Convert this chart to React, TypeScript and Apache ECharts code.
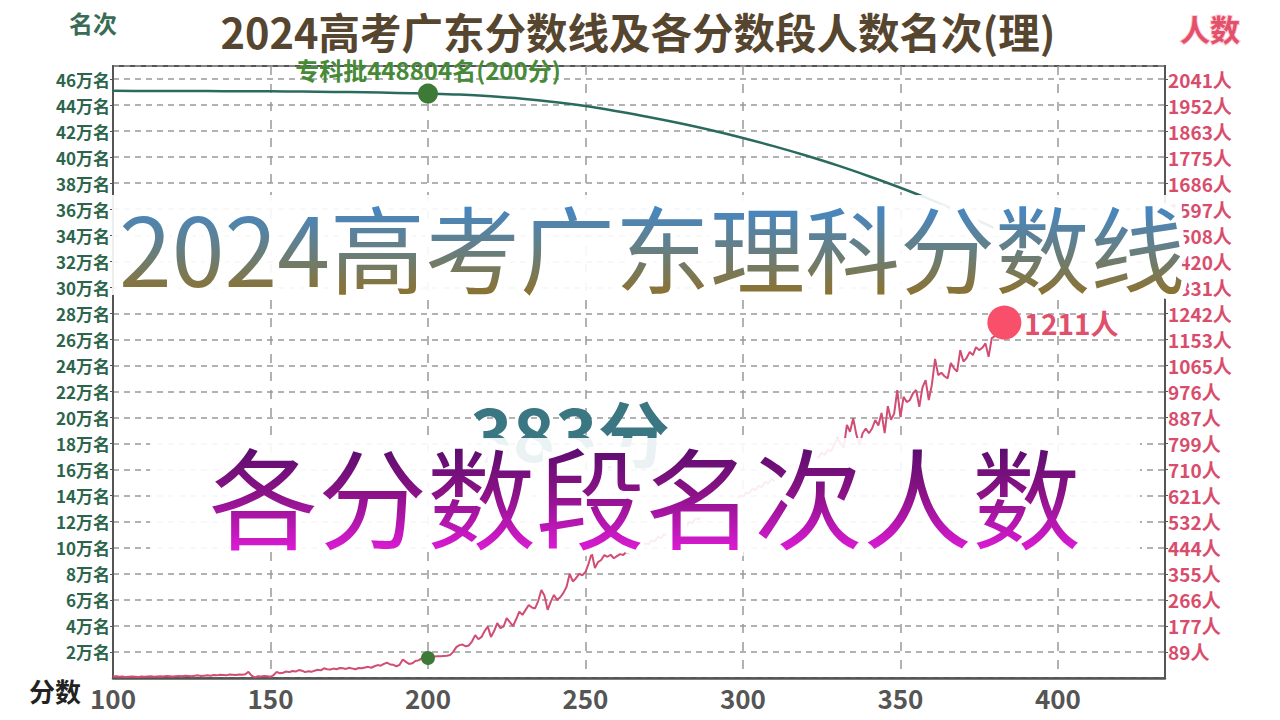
import React, { useEffect, useRef } from 'react';
import * as echarts from 'echarts';

// 每分人数 (score 100 .. 383)
const countStartScore = 100;
const countsPerScore = [
  5, 6, 4, 5, 3, 4, 5, 4, 3, 5,
  4, 5, 6, 4, 5, 6, 5, 7, 6, 5,
  6, 7, 6, 8, 7, 6, 8, 9, 7, 8,
  9, 8, 10, 9, 11, 10, 9, 12, 11, 10,
  12, 11, 13, 21, 8, 2, 6, 5, 7, 6,
  4, 10, 21, 16, 18, 22, 20, 24, 22, 27,
  25, 20, 23, 21, 25, 28, 26, 33, 30, 29,
  32, 30, 34, 33, 31, 35, 32, 30, 34, 33,
  36, 38, 35, 40, 44, 42, 48, 52, 46, 45,
  40, 45, 63, 55, 48, 50, 58, 60, 67, 64,
  68, 72, 73, 74, 74, 75, 76, 78, 89, 105,
  112, 114, 108, 111, 125, 146, 132, 140, 160, 175,
  140, 160, 187, 170, 175, 204, 190, 177, 200, 226,
  215, 232, 249, 240, 237, 262, 300, 280, 232, 260,
  283, 266, 275, 290, 311, 355, 329, 340, 355, 350,
  361, 390, 426, 375, 395, 402, 419, 413, 420, 408,
  415, 422, 419, 430, 425, 440, 432, 450, 445, 460,
  455, 470, 465, 482, 476, 490, 485, 500, 495, 510,
  505, 522, 515, 532, 528, 545, 540, 556, 550, 568,
  562, 578, 572, 590, 585, 600, 595, 612, 606, 622,
  618, 632, 628, 645, 640, 655, 650, 668, 662, 678,
  672, 688, 684, 700, 694, 712, 705, 722, 716, 732,
  728, 745, 738, 755, 750, 768, 760, 778, 772, 795,
  817, 800, 784, 862, 839, 885, 830, 794, 834, 850,
  834, 850, 879, 860, 903, 834, 926, 880, 900, 981,
  889, 958, 940, 947, 970, 981, 924, 990, 1015, 947,
  1000, 1087, 1032, 1040, 1028, 1021, 1073, 1055, 1044, 1117,
  1078, 1090, 1111, 1100, 1127, 1117, 1125, 1140, 1094, 1158,
  1165, 1180, 1195, 1211,
];

// 名次 (累计排名)
const rankScores = [100, 110, 120, 130, 140, 150, 160, 170, 180, 190, 200, 210, 220, 230, 240, 250, 260, 270, 280, 290, 300, 310, 320, 330, 340, 350, 360, 370, 380, 383];
const rankValues = [450900, 450860, 450800, 450730, 450630, 450540, 450350, 450090, 449770, 449340, 448804, 448020, 446697, 444868, 442361, 439207, 435198, 430860, 426032, 420671, 414749, 408273, 401248, 393659, 385364, 376517, 366956, 356459, 345319, 341779];

const zhuankeScore = 200;
const zhuankeRank = 448804;
const zhuankeCount = 68;
const currentScore = 383;
const currentCount = 1211;

const xMin = 100;
const xMax = 434;
const xInterval = 50;
const rankMax = 470000;
const rankInterval = 20000;
const countInterval = 88.726;
const countMax = countInterval * 23.5;

const FONT = '"Noto Sans CJK SC", "Noto Sans", sans-serif';

export default function App() {
  const ref = useRef<HTMLDivElement>(null);
  useEffect(() => {
    const chart = echarts.init(ref.current!, null, { renderer: 'svg' });
    const countData = countsPerScore.map((v, i) => [countStartScore + i, v]);
    const rankData = rankScores.map((s, i) => [s, rankValues[i]]);

    const option: any = {
      animation: false,
      backgroundColor: '#ffffff',
      textStyle: { fontFamily: FONT },
      grid: {
        left: 113, right: 115, top: 66, bottom: 42,
        show: true, borderColor: '#555', borderWidth: 2, backgroundColor: 'transparent',
      },
      xAxis: {
        type: 'value', min: xMin, max: xMax, interval: xInterval,
        axisLine: { show: true, lineStyle: { color: '#555', width: 2.5 } },
        axisTick: { show: false },
        axisLabel: { showMaxLabel: false, color: '#555', fontSize: 26, fontWeight: 'bold', margin: 6, fontFamily: FONT },
        splitLine: { show: true, lineStyle: { color: '#999', type: [9, 9], width: 1.5 } },
      },
      yAxis: [
        {
          type: 'value', min: 0, max: rankMax, interval: rankInterval,
          axisLine: { show: true, lineStyle: { color: '#555', width: 2 } },
          axisTick: { show: true, length: 3, lineStyle: { color: '#555' } },
          axisLabel: {
            showMinLabel: false, showMaxLabel: false, color: '#2c654c', fontSize: 17, fontWeight: 'bold', margin: 3, fontFamily: FONT,
            formatter: (v: number) => `${Math.round(v / 10000)}万名`,
          },
          splitLine: { show: true, lineStyle: { color: '#999', type: [6, 5], width: 1.5 } },
        },
        {
          type: 'value', min: 0, max: countMax, interval: countInterval,
          axisLine: { show: true, lineStyle: { color: '#555', width: 2 } },
          axisTick: { show: true, length: 3, lineStyle: { color: '#555' } },
          axisLabel: {
            showMinLabel: false, showMaxLabel: false, color: '#d94d6c', fontSize: 19, fontWeight: 'bold', margin: 3, fontFamily: FONT,
            formatter: (v: number) => `${Math.round(v)}人`,
          },
          splitLine: { show: false },
        },
      ],
      series: [
        {
          type: 'line', name: '名次', yAxisIndex: 0, data: rankData, smooth: 0.4, showSymbol: false,
          lineStyle: { color: '#2b6b5e', width: 2.5 }, z: 3,
        },
        {
          type: 'line', name: '人数', yAxisIndex: 1, data: countData, showSymbol: false,
          lineStyle: { color: '#d24d73', width: 2 }, z: 3,
        },
        {
          type: 'scatter', yAxisIndex: 0, data: [[zhuankeScore, zhuankeRank]], symbolSize: 20,
          itemStyle: { color: '#3d7a38', opacity: 1 }, z: 5,
          label: {
            show: true, position: 'top', distance: 2,
            formatter: `专科批${zhuankeRank}名(${zhuankeScore}分)`,
            color: '#468a38', fontSize: 24, fontWeight: 'bold', fontFamily: FONT, opacity: 1,
          },
        },
        {
          type: 'scatter', yAxisIndex: 1, data: [[zhuankeScore, zhuankeCount]], symbolSize: 14,
          itemStyle: { color: '#3d7a38', opacity: 1 }, z: 5,
        },
        {
          type: 'scatter', yAxisIndex: 1, data: [[currentScore, currentCount]], symbolSize: 34,
          itemStyle: { color: '#f8506a', opacity: 1 }, z: 5,
          label: {
            show: true, position: 'right', distance: 3,
            formatter: `${currentCount}人`,
            color: '#e0506a', fontSize: 28, fontWeight: 'bold', fontFamily: FONT, opacity: 1,
          },
        },
      ],
      graphic: [
        {
          type: 'text', x: 638, y: 31, z: 10,
          style: { text: '2024高考广东分数线及各分数段人数名次(理)', font: `bold 41.5px ${FONT}`, fill: '#56462f', textAlign: 'center', textVerticalAlign: 'middle' },
        },
        {
          type: 'text', x: 93, y: 22, z: 10,
          style: { text: '名次', font: `bold 24px ${FONT}`, fill: '#3a6b55', textAlign: 'center', textVerticalAlign: 'middle' },
        },
        {
          type: 'text', x: 1210, y: 28, z: 10,
          style: { text: '人数', font: `bold 30px ${FONT}`, fill: '#e4506a', stroke: '#fbd0d8', lineWidth: 2, textAlign: 'center', textVerticalAlign: 'middle' },
        },
        {
          type: 'text', x: 55, y: 690, z: 10,
          style: { text: '分数', font: `bold 26px ${FONT}`, fill: '#222', textAlign: 'center', textVerticalAlign: 'middle' },
        },
        {
          type: 'text', x: 570, y: 430, z: 20,
          style: { text: `${currentScore}分`, font: `bold 72px ${FONT}`, fill: '#3a7782', textAlign: 'center', textVerticalAlign: 'middle' },
        },
        {
          type: 'rect', z: 30,
          shape: { x: 112, y: 195, width: 1070, height: 100 },
          style: { fill: 'rgba(255,255,255,0.9)' },
        },
        {
          type: 'rect', z: 30,
          shape: { x: 150, y: 438, width: 990, height: 114 },
          style: { fill: 'rgba(255,255,255,0.9)' },
        },
      ],
    };
    chart.setOption(option);

    // Overlay titles with vertical gradient fill
    const grad1 = new echarts.graphic.LinearGradient(0, 0, 0, 1, [
      { offset: 0, color: '#2f8cf2' },
      { offset: 0.5, color: '#62808a' },
      { offset: 1, color: '#9c6d0c' },
    ]);
    const grad2 = new echarts.graphic.LinearGradient(0, 0, 0, 1, [
      { offset: 0, color: '#380a5c' },
      { offset: 0.5, color: '#8a1286' },
      { offset: 1, color: '#fa1ef2' },
    ]);
    const zr = chart.getZr();
    const overlays = [
      { text: '2024高考广东理科分数线', x: 652, y: 245, size: 95, grad: grad1, solid: '#62808a' },
      { text: '各分数段名次人数', x: 645, y: 493, size: 109, grad: grad2, solid: '#8a1286' },
    ];
    overlays.forEach((o) => {
      const t: any = new (echarts.graphic as any).Text({
        x: o.x, y: o.y, z: 40,
        style: {
          text: o.text, font: `normal ${o.size}px ${FONT}`, fill: o.solid,
          stroke: '#ffffff', lineWidth: 12,
          align: 'center', verticalAlign: 'middle',
        },
      });
      zr.add(t);
      try {
        t.update();
        const kids = typeof t.childrenRef === 'function' ? t.childrenRef() : [];
        kids.forEach((k: any) => {
          if (k && k.style) {
            k.style.fill = o.grad;
            if (typeof k.markRedraw === 'function') k.markRedraw();
          }
        });
      } catch (e) {
        // keep solid fill
      }
    });
    zr.refreshImmediately();
    return () => chart.dispose();
  }, []);
  return <div ref={ref} style={{ position: 'absolute', left: 0, top: 0, width: 1280, height: 720 }} />;
}
